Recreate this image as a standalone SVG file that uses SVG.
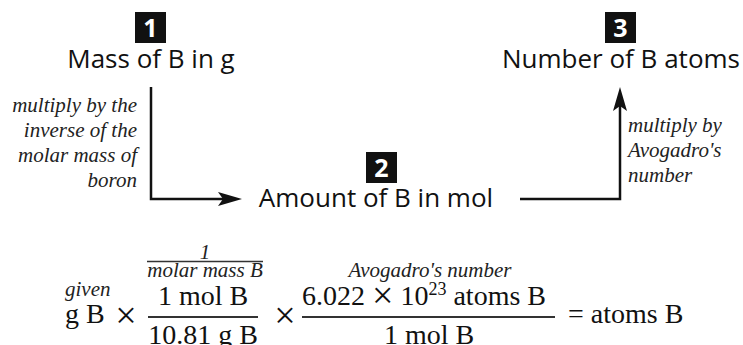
<svg xmlns="http://www.w3.org/2000/svg" width="743" height="345" viewBox="0 0 743 345">
<style>
.title{font-family:"Open Sans","Noto Sans",sans-serif;font-size:26px;fill:#111;text-anchor:middle}
.num{font-family:"Open Sans","Noto Sans",sans-serif;font-weight:bold;font-size:25px;fill:#fff;text-anchor:middle}
.box{fill:#111}
.lbl{font-family:"Liberation Serif","Times New Roman",serif;font-style:italic;font-size:21px;fill:#222}
.eq{font-family:"Liberation Serif","Times New Roman",serif;font-size:28px;fill:#111}
.eqi{font-family:"Liberation Serif","Times New Roman",serif;font-style:italic;font-size:21px;fill:#222}
.times{font-size:38px}
.conn{fill:none;stroke:#111;stroke-width:2.5}
.bar{stroke:#333;stroke-width:2}
.bar2{stroke:#333;stroke-width:1.5}
</style>
<defs>
<marker id="arr" viewBox="0 0 24 16" refX="16" refY="8" markerWidth="24" markerHeight="16" markerUnits="userSpaceOnUse" orient="auto">
<path d="M0,1 L24,8 L0,15 L5,8 Z" fill="#111"/>
</marker>
</defs>
<g id="node1">
<rect class="box" x="135" y="12" width="31" height="31"/>
<text class="num" x="150.5" y="37">1</text>
<text class="title" x="151" y="68">Mass of B in g</text>
</g>
<g id="node2">
<rect class="box" x="366" y="152" width="31" height="31"/>
<text class="num" x="381.5" y="177">2</text>
<text class="title" x="376" y="207">Amount of B in mol</text>
</g>
<g id="node3">
<rect class="box" x="605" y="12" width="31" height="31"/>
<text class="num" x="620.5" y="37">3</text>
<text class="title" x="621" y="68">Number of B atoms</text>
</g>
<g id="connectors">
<polyline class="conn" points="151,87 151,199 234,199" marker-end="url(#arr)"/>
<polyline class="conn" points="520,199 620,199 620,95" marker-end="url(#arr)"/>
<g id="labels">
<text class="lbl" x="137" y="112" text-anchor="end">multiply by the</text>
<text class="lbl" x="137" y="137" text-anchor="end">inverse of the</text>
<text class="lbl" x="137" y="162" text-anchor="end">molar mass of</text>
<text class="lbl" x="137" y="187" text-anchor="end">boron</text>
<text class="lbl" x="628" y="132">multiply by</text>
<text class="lbl" x="628" y="157">Avogadro's</text>
<text class="lbl" x="628" y="182">number</text>
</g>
</g>
<g id="equation">
<text class="eqi" x="65" y="296">given</text>
<text class="eq" x="65" y="323">g B</text>
<text class="eq times" x="126" y="328" text-anchor="middle">×</text>
<text class="eqi" x="205" y="259" text-anchor="middle">1</text>
<line class="bar2" x1="147" y1="261.5" x2="263" y2="261.5"/>
<text class="eqi" x="205" y="277" text-anchor="middle">molar mass B</text>
<text class="eq" x="203" y="305" text-anchor="middle">1 mol B</text>
<line class="bar" x1="148" y1="317" x2="258" y2="317"/>
<text class="eq" x="203" y="344" text-anchor="middle">10.81 g B</text>
<text class="eq times" x="285" y="328" text-anchor="middle">×</text>
<text class="eqi" x="430" y="277" text-anchor="middle">Avogadro's number</text>
<text class="eq" x="302" y="305">6.022 <tspan class="times" dy="3">×</tspan><tspan dy="-3"> 10</tspan><tspan font-size="18" dy="-10">23</tspan><tspan dy="10"> atoms B</tspan></text>
<line class="bar" x1="302" y1="317" x2="555" y2="317"/>
<text class="eq" x="429" y="344" text-anchor="middle">1 mol B</text>
<text class="eq" x="568" y="323">= atoms B</text>
</g>
</svg>
